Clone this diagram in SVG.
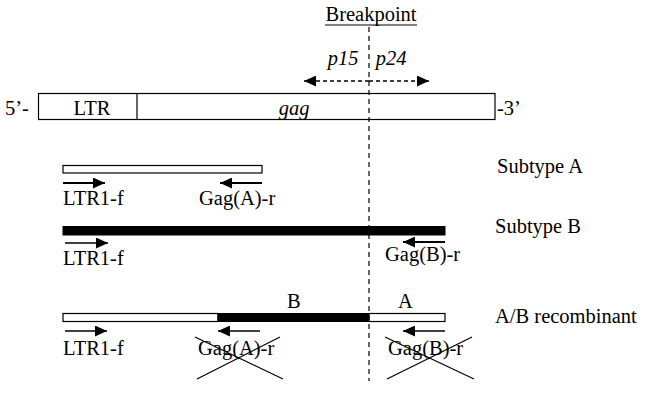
<svg xmlns="http://www.w3.org/2000/svg" width="656" height="400" viewBox="0 0 656 400">
<defs>
<marker id="ab" viewBox="0 0 10 10" refX="10" refY="5" markerWidth="12" markerHeight="11" markerUnits="userSpaceOnUse" orient="auto-start-reverse" preserveAspectRatio="none"><path d="M0,0 L10,5 L0,10 z" fill="#000"/></marker>
</defs>
<style>
text{font-family:"Liberation Serif","Times New Roman",serif;font-size:20.5px;fill:#000}
.it{font-style:italic}
.open{fill:#fff;stroke:#000;stroke-width:1.2}
.solid{fill:#000;stroke:#000;stroke-width:1}
.pr{stroke:#000;stroke-width:2;fill:none;marker-end:url(#ab)}
.pr2{stroke:#000;stroke-width:1.3;fill:none;marker-end:url(#ab)}
.x{stroke:#000;stroke-width:1.2}
</style>
<rect width="656" height="400" fill="#fff"/>
<g id="genome">
<rect class="open" x="38.5" y="93.5" width="456.5" height="26"/>
<line x1="137" y1="93.5" x2="137" y2="119.5" stroke="#000" stroke-width="1.2"/>
<text x="5" y="115">5’-</text>
<text x="92" y="115" text-anchor="middle">LTR</text>
<text x="294" y="115" text-anchor="middle" class="it">gag</text>
<text x="497" y="115">-3’</text>
</g>
<g id="breakpoint">
<text x="371" y="21" text-anchor="middle">Breakpoint</text>
<line x1="325" y1="25" x2="417" y2="25" stroke="#000" stroke-width="1"/>
<text x="343" y="65" text-anchor="middle" class="it">p15</text>
<text x="391" y="65" text-anchor="middle" class="it">p24</text>
</g>
<g id="subtypeA">
<rect class="open" x="63" y="165.5" width="199" height="7.5"/>
<text x="63" y="205">LTR1-f</text>
<text x="199" y="205">Gag(A)-r</text>
<text x="497" y="173">Subtype A</text>
</g>
<g id="subtypeB">
<rect class="solid" x="63" y="226.5" width="382" height="8.5"/>
<text x="63" y="265">LTR1-f</text>
<text x="385" y="261">Gag(B)-r</text>
<text x="495" y="233">Subtype B</text>
</g>
<g id="recombinant">
<rect class="open" x="63" y="313.5" width="155" height="8"/>
<rect class="solid" x="218" y="313.5" width="151" height="8"/>
<rect class="open" x="369" y="313.5" width="76" height="8"/>
<text x="287" y="308">B</text>
<text x="398" y="308">A</text>
<text x="63" y="355">LTR1-f</text>
<text x="198" y="355">Gag(A)-r</text>
<text x="388" y="355">Gag(B)-r</text>
<text x="495" y="323">A/B recombinant</text>
<line class="x" x1="195" y1="337" x2="283" y2="379"/>
<line class="x" x1="197" y1="379" x2="280" y2="337"/>
<line class="x" x1="385" y1="337" x2="474" y2="379"/>
<line class="x" x1="387" y1="379" x2="472" y2="337"/>
</g>
<g id="connectors">
<line x1="369" y1="27" x2="369" y2="381" stroke="#000" stroke-width="1.2" stroke-dasharray="5,4"/>
<line x1="369" y1="81" x2="304" y2="81" stroke="#000" stroke-width="1.3" stroke-dasharray="4,3" marker-end="url(#ab)"/>
<line x1="369" y1="81" x2="429" y2="81" stroke="#000" stroke-width="1.3" stroke-dasharray="4,3" marker-end="url(#ab)"/>
<line class="pr" x1="63" y1="183" x2="105" y2="183"/>
<line class="pr" x1="262" y1="183" x2="220" y2="183"/>
<line class="pr2" x1="65" y1="243" x2="108" y2="243"/>
<line class="pr" x1="445" y1="242" x2="403" y2="242"/>
<line class="pr2" x1="65" y1="331" x2="107" y2="331"/>
<line class="pr2" x1="260" y1="331" x2="218" y2="331"/>
<line class="pr2" x1="445" y1="331" x2="403" y2="331"/>
</g>
</svg>
